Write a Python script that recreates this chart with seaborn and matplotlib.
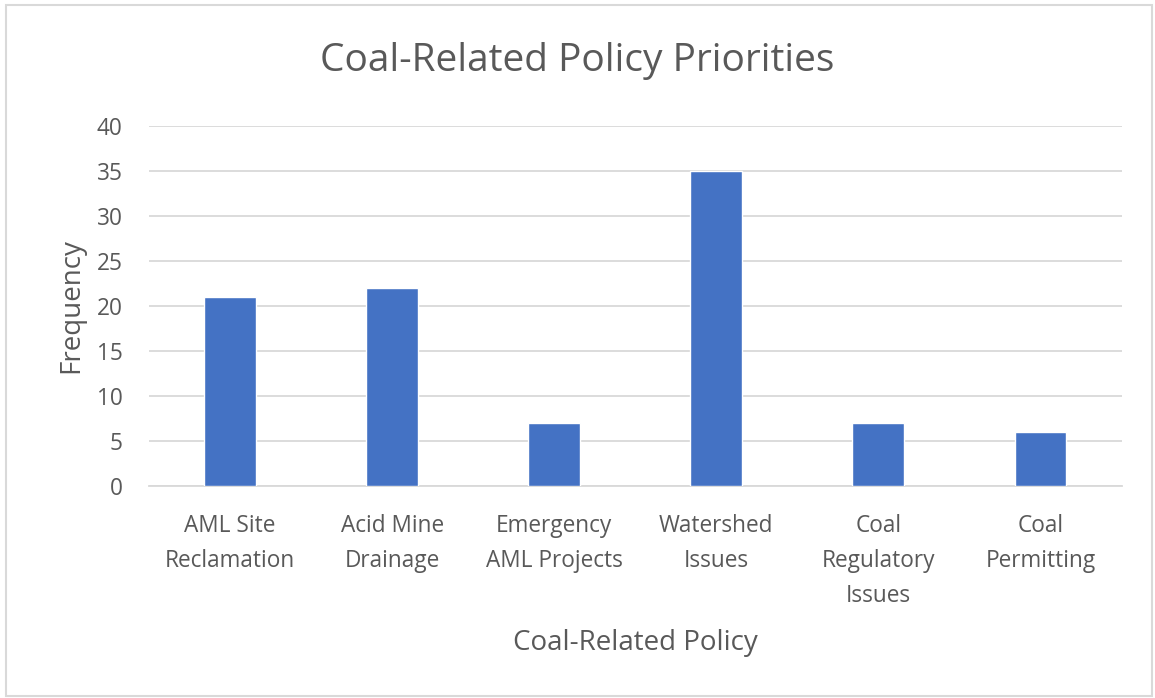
import matplotlib
matplotlib.use("Agg")
import matplotlib.pyplot as plt
import seaborn as sns
import pandas as pd
from matplotlib.patches import Rectangle

categories = ["AML Site\nReclamation", "Acid Mine\nDrainage", "Emergency\nAML Projects",
              "Watershed\nIssues", "Coal\nRegulatory\nIssues", "Coal\nPermitting"]
frequency = [21, 22, 7, 35, 7, 6]
yticks = [0, 5, 10, 15, 20, 25, 30, 35, 40]

sns.set_theme(style="white")
plt.rcParams['font.family'] = ['Open Sans', 'DejaVu Sans']
text_color = "#595959"

df = pd.DataFrame({"policy": categories, "freq": frequency})
fig = plt.figure(figsize=(11.55, 6.98), dpi=100)
ax = fig.add_axes([0.129, 0.304, 0.842, 0.5155])
sns.barplot(data=df, x="policy", y="freq", color="#4472C4", width=0.32, saturation=1, ax=ax, zorder=3)

ax.set_ylim(0, 40)
ax.set_yticks(yticks)
ax.set_xlim(-0.5, len(categories) - 0.5)
ax.yaxis.grid(True, color="#D9D9D9", linewidth=1.3, zorder=0)
ax.set_axisbelow(True)
for s in ["top", "right", "left"]:
    ax.spines[s].set_visible(False)
ax.spines["bottom"].set_color("#D9D9D9")
ax.spines["bottom"].set_linewidth(1.3)
ax.tick_params(axis="both", length=0, labelsize=16.3, colors=text_color)
ax.tick_params(axis="y", pad=19)
ax.tick_params(axis="x", pad=20)
for t in ax.get_xticklabels():
    t.set_linespacing(1.62)
ax.set_xlabel("Coal-Related Policy", fontsize=20, color=text_color, labelpad=15)
ax.set_ylabel("Frequency", fontsize=20, color=text_color, labelpad=8)
fig.text(0.5, 0.913, "Coal-Related Policy Priorities", ha="center", va="center",
         fontsize=28, color=text_color)
fig.patches.append(Rectangle((0.0055, 0.003), 0.992, 0.99, transform=fig.transFigure,
                             fill=False, edgecolor="#D9D9D9", linewidth=1.5))
fig.savefig("out.png", dpi=100)
